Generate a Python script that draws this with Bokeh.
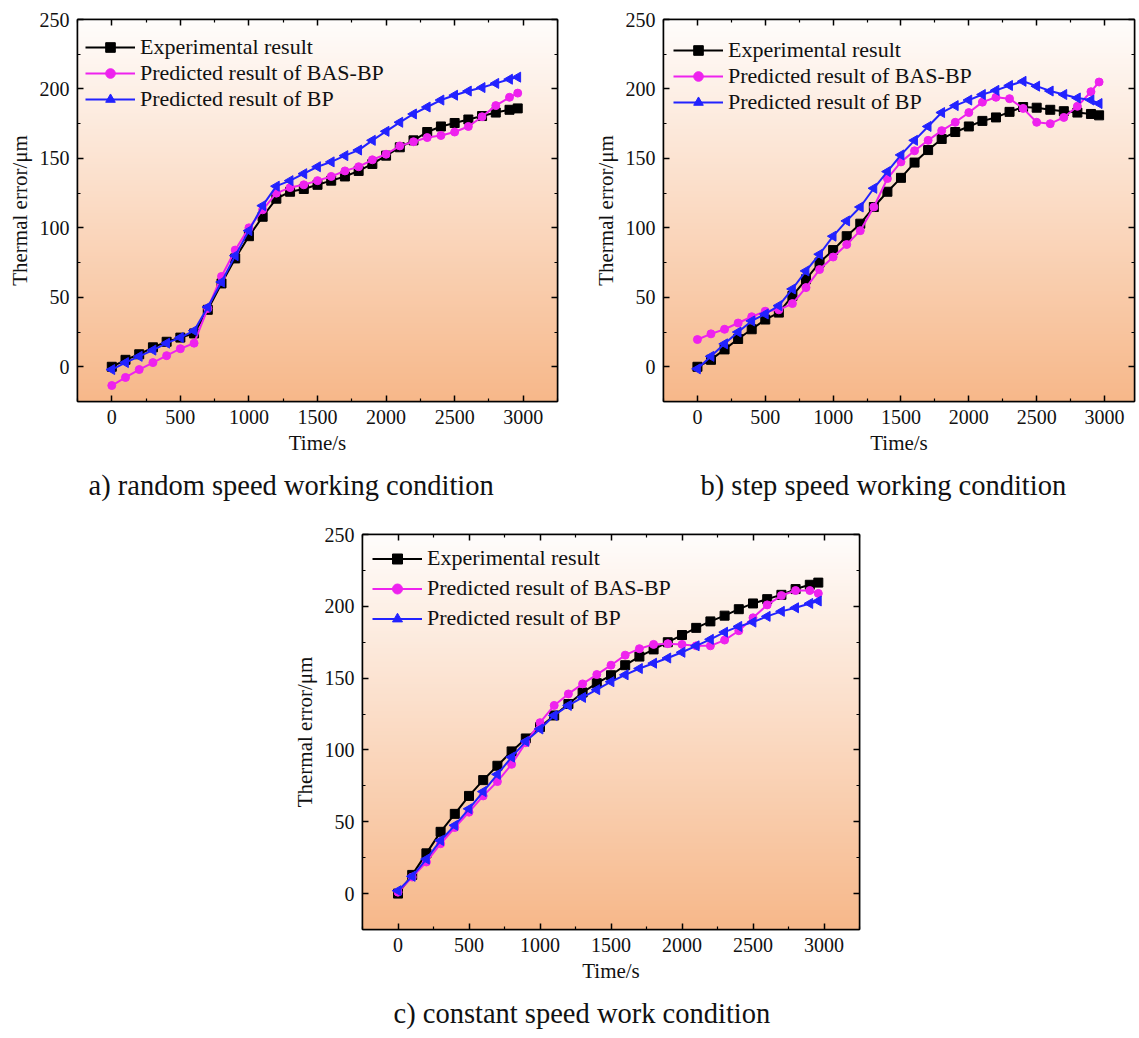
import numpy as np
from bokeh.plotting import figure
from bokeh.models import (LinearAxis, FixedTicker, Legend, LegendItem, Title,
                          Range1d, Spacer, ColumnDataSource,
                          CustomLabelingPolicy)
from bokeh.layouts import row, column
from bokeh.embed import file_html
from bokeh.resources import INLINE

# ---------------- data ----------------
time_s = [0, 100, 200, 300, 400, 500, 600, 700, 800, 900, 1000, 1100, 1200,
          1300, 1400, 1500, 1600, 1700, 1800, 1900, 2000, 2100, 2200, 2300,
          2400, 2500, 2600, 2700, 2800, 2900, 2960]

# a) random speed
a_exp = [0, 5, 9, 14, 18, 21, 24, 41, 60, 78, 94, 108, 121, 126, 128, 131,
         134, 137, 141, 146, 152, 158, 163, 169, 173, 175.5, 178, 180.5, 183,
         185, 186]
a_bas = [-13.5, -7.7, -2, 3, 8, 13, 17, 42, 65, 84, 100, 113, 125, 129, 131,
         134, 137, 141, 144, 149, 153, 159, 162, 165, 166.5, 169, 173, 180,
         188, 194, 197]
a_bp = [-2, 3, 7.5, 12, 17, 21, 26, 43, 61, 80, 98, 116, 130, 134, 139, 144,
        147.5, 152, 156, 163, 169.5, 176, 182, 187, 192, 195.5, 198.5, 201,
        204, 207, 208.5]

# b) step speed
b_exp = [0, 5, 12.5, 20, 27, 34, 39, 51, 63, 75, 84, 94, 103, 115, 126, 136,
         147, 156, 164, 169, 173, 177, 179.5, 183.5, 187, 186.5, 185, 184, 183,
         182, 181]
b_bas = [19.6, 23.7, 27, 31.5, 36, 40, 41, 45.5, 57, 70, 79, 88, 98, 115,
         135.5, 147.5, 155.5, 163, 170, 176, 183, 190.5, 194, 193, 186, 176,
         175, 179.5, 187.5, 198, 205]
b_bp = [-1.5, 7.5, 16.5, 25, 33, 38, 44, 56, 69, 81, 94, 105, 115, 128.5,
        140.5, 152.5, 163, 173, 183, 188, 192, 196, 199, 202.5, 205.5, 202,
        198.5, 196, 193.5, 192, 189.5]

# c) constant speed
c_exp = [0, 13, 28, 43, 55.5, 68, 79, 89, 99, 108, 116, 124, 132, 140, 146.5,
         152, 159, 165, 170, 175, 180, 185, 189.5, 193.5, 198, 202, 205, 208,
         212, 215, 216.5]
c_bas = [1, 11.5, 22, 34.7, 46, 56.7, 68, 78, 90, 105, 119, 131, 139, 146,
         152.5, 159, 166, 170.5, 173.5, 174, 173.5, 172.5, 172.5, 176.5, 183,
         192, 201, 207.5, 211, 211, 209]
c_bp = [2, 12, 24, 37, 47.5, 59, 71, 83, 95, 106, 114.6, 124, 131, 136.6, 142,
        147.5, 152.3, 156.7, 160.4, 164, 168, 172.5, 177, 182, 186, 189, 193,
        196.5, 199, 202, 203.7]

series_labels = ["Experimental result", "Predicted result of BAS-BP",
                 "Predicted result of BP"]
captions = ["a) random speed working condition",
            "b) step speed working condition",
            "c) constant speed work condition"]

x_major = [0, 500, 1000, 1500, 2000, 2500, 3000]
x_minor = [-250, 250, 750, 1250, 1750, 2250, 2750, 3250]
y_major = [0, 50, 100, 150, 200, 250]
y_minor = [-25, 25, 75, 125, 175, 225]

X_START, X_END, Y_START, Y_END = -250, 3250, -25, 250

FONT = "Liberation Serif"
C_EXP, C_BAS, C_BP = "#000000", "#ee22ee", "#2222ff"


def gradient_image():
    n = 256
    t = np.linspace(0.0, 1.0, n)[:, None]
    top = np.array([255, 253, 252], dtype=float)
    bot = np.array([247, 184, 138], dtype=float)
    rgb = bot + (top - bot) * t
    img = np.empty((n, 2), dtype=np.uint32)
    v = img.view(dtype=np.uint8).reshape((n, 2, 4))
    for k in range(3):
        v[:, :, k] = rgb[:, k:k + 1].astype(np.uint8)
    v[:, :, 3] = 255
    return img


def style_axis(ax, ticks, minor, labels=True):
    ax.ticker = FixedTicker(ticks=ticks, minor_ticks=minor)
    ax.axis_line_color = "black"
    ax.axis_line_width = 1.5
    ax.major_tick_in = 6
    ax.major_tick_out = 0
    ax.minor_tick_in = 3
    ax.minor_tick_out = 0
    ax.major_tick_line_width = 1.5
    ax.minor_tick_line_width = 1.2
    ax.major_tick_line_color = "black"
    ax.minor_tick_line_color = "black"
    if labels:
        ax.major_label_text_font = FONT
        ax.major_label_text_font_size = "20px"
        ax.major_label_text_color = "#111111"
        ax.major_label_standoff = 8
        ax.axis_label_text_font = FONT
        ax.axis_label_text_font_size = "21px"
        ax.axis_label_text_font_style = "normal"
        ax.axis_label_text_color = "#111111"
    else:
        ax.major_label_policy = CustomLabelingPolicy(code="return new Set()")
        ax.major_label_text_font_size = "1px"
        ax.major_label_standoff = 0
        ax.axis_label = None


def make_panel(exp, bas, bp, width, height, bl, br, bt, bb, x_end,
               caption, cap_offset, leg_xy, leg_row_h, leg_spacing):
    p = figure(width=width, height=height, output_backend="svg",
               toolbar_location=None, x_range=Range1d(X_START, x_end),
               y_range=Range1d(Y_START, Y_END),
               min_border_left=bl, min_border_right=br,
               min_border_top=bt, min_border_bottom=bb)
    p.grid.visible = False
    p.outline_line_color = "black"
    p.outline_line_width = 1.5
    p.background_fill_color = "white"
    p.border_fill_color = "white"

    p.image_rgba(image=[gradient_image()], x=X_START, y=Y_START,
                 dw=x_end - X_START, dh=Y_END - Y_START)

    style_axis(p.xaxis[0], x_major, x_minor)
    style_axis(p.yaxis[0], y_major, y_minor)
    p.xaxis[0].axis_label = "Time/s"
    p.xaxis[0].axis_label_standoff = 4
    p.yaxis[0].axis_label = "Thermal error/μm"
    p.yaxis[0].axis_label_standoff = 5

    top_ax = LinearAxis()
    style_axis(top_ax, x_major, x_minor, labels=False)
    p.add_layout(top_ax, "above")
    right_ax = LinearAxis()
    style_axis(right_ax, y_major, y_minor, labels=False)
    p.add_layout(right_ax, "right")

    src = ColumnDataSource(dict(t=time_s, exp=exp, bas=bas, bp=bp,
                                ang=[90.0] * len(time_s)))
    l1 = p.line("t", "exp", source=src, line_color=C_EXP, line_width=2)
    m1 = p.scatter("t", "exp", source=src, marker="square", size=9,
                   fill_color=C_EXP, line_color=C_EXP)
    l2 = p.line("t", "bas", source=src, line_color=C_BAS, line_width=2)
    m2 = p.scatter("t", "bas", source=src, marker="circle", size=8,
                   fill_color=C_BAS, line_color=C_BAS)
    l3 = p.line("t", "bp", source=src, line_color=C_BP, line_width=2)
    m3 = p.scatter("t", "bp", source=src, marker="triangle", size=10,
                   angle="ang", angle_units="deg",
                   fill_color=C_BP, line_color=C_BP)
    items = [LegendItem(label=series_labels[0], renderers=[l1, m1]),
             LegendItem(label=series_labels[1], renderers=[l2, m2]),
             LegendItem(label=series_labels[2], renderers=[l3, m3])]
    leg = Legend(items=items, location=leg_xy, padding=0, margin=0,
                 spacing=leg_spacing, label_height=leg_row_h,
                 glyph_height=leg_row_h, glyph_width=50, label_standoff=5,
                 label_text_font=FONT, label_text_font_size="22px",
                 label_text_color="#111111",
                 border_line_alpha=0, background_fill_alpha=0)
    p.add_layout(leg, "center")

    p.add_layout(Title(text=caption, align="left", offset=cap_offset,
                       text_font=FONT, text_font_size="28.5px",
                       text_font_style="normal", text_color="#111111",
                       standoff=20), "below")
    return p


x_end_b = X_START + 476 * (X_END - X_START) / 480.0

pa = make_panel(a_exp, a_bas, a_bp, 570, 510, 77, 13, 19, 108, X_END,
                captions[0], 11, (8, 289), 24, 0)
pb = make_panel(b_exp, b_bas, b_bp, 569, 510, 93, 0, 19, 108, x_end_b,
                captions[1], 37, (10, 286), 24, 0)
pc = make_panel(c_exp, c_bas, c_bp, 597, 528, 80, 20, 24, 106, X_END,
                captions[2], 31, (10, 298), 25, 4)

layout = column(row(pa, pb), row(Spacer(width=282, height=528), pc))

open("out.html", "w").write(file_html(layout, INLINE))
